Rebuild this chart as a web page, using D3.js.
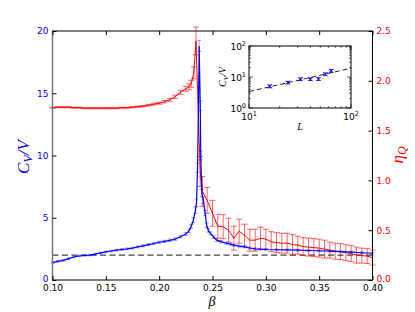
<!DOCTYPE html>
<html>
<head>
<meta charset="utf-8">
<script src="https://cdn.jsdelivr.net/npm/d3@7"></script>
<style>
body{margin:0;background:#fff;}
text{font-family:"DejaVu Sans",sans-serif;}
.math{font-family:"Liberation Serif","DejaVu Serif",serif;font-style:italic;}
</style>
</head>
<body>
<div id="chart"></div>
<script>
// specific heat per volume, C_V/V vs beta
var betaCv = [0.100,0.105,0.110,0.115,0.120,0.125,0.130,0.135,0.140,0.145,
              0.150,0.155,0.160,0.165,0.170,0.175,0.180,0.185,0.190,0.195,
              0.200,0.205,0.210,0.215,0.220,0.225,0.228,0.230,0.232,0.234,
              0.235,0.236,0.237,0.2375,0.2385,0.239,0.240,0.2415,0.243,0.2445,
              0.246,0.248,0.251,0.254,0.258,0.263,0.267,0.270,0.275,0.280,
              0.285,0.290,0.295,0.300,0.310,0.320,0.330,0.340,0.350,0.360,
              0.370,0.380,0.390,0.400];
var cvVal = [1.40,1.50,1.58,1.72,1.85,1.93,1.97,2.00,2.08,2.18,
             2.26,2.33,2.40,2.45,2.50,2.56,2.66,2.74,2.84,2.93,
             3.03,3.10,3.18,3.28,3.48,3.70,3.95,4.30,4.80,5.60,
             6.20,9.00,15.0,18.8,14.0,10.0,7.00,6.40,5.40,4.40,
             4.00,3.75,3.45,3.20,3.08,2.95,2.88,2.80,2.72,2.66,
             2.57,2.50,2.47,2.45,2.43,2.42,2.40,2.37,2.35,2.32,
             2.28,2.24,2.19,2.15];
var cvErr = [0.06,0.06,0.06,0.06,0.06,0.06,0.06,0.06,0.06,0.06,
             0.07,0.07,0.07,0.07,0.07,0.07,0.08,0.08,0.08,0.08,
             0.09,0.09,0.10,0.10,0.10,0.12,0.14,0.16,0.20,0.25,
             0.30,0.35,0.40,0.45,0.40,0.35,0.30,0.25,0.20,0.18,
             0.15,0.12,0.10,0.10,0.09,0.09,0.09,0.08,0.08,0.08,
             0.08,0.08,0.07,0.07,0.07,0.07,0.07,0.07,0.07,0.07,
             0.07,0.07,0.07,0.07];

// eta_Q vs beta
var betaEta = [0.100,0.105,0.110,0.115,0.120,0.125,0.130,0.135,0.140,0.145,
               0.150,0.155,0.160,0.165,0.170,0.175,0.180,0.185,0.190,0.195,
               0.200,0.205,0.210,0.215,0.220,0.225,0.228,0.230,0.2325,0.2345,
               0.2385,0.2405,0.245,0.250,0.255,0.260,0.265,0.270,0.275,0.280,
               0.285,0.290,0.295,0.300,0.305,0.310,0.315,0.320,0.325,0.330,
               0.335,0.340,0.345,0.350,0.355,0.360,0.365,0.370,0.375,0.380,
               0.385,0.390,0.395,0.400];
var etaVal = [1.73,1.735,1.735,1.735,1.73,1.73,1.725,1.725,1.725,1.725,
              1.725,1.725,1.725,1.73,1.73,1.735,1.74,1.745,1.755,1.765,
              1.775,1.79,1.81,1.84,1.885,1.92,1.94,1.97,2.08,2.40,
              1.09,0.89,0.80,0.67,0.54,0.535,0.50,0.42,0.49,0.45,
              0.40,0.40,0.42,0.41,0.385,0.375,0.37,0.37,0.355,0.35,
              0.335,0.33,0.325,0.32,0.31,0.30,0.29,0.285,0.275,0.265,
              0.25,0.245,0.24,0.225];
var etaErr = [0.005,0.005,0.005,0.005,0.005,0.005,0.005,0.005,0.005,0.005,
              0.005,0.005,0.005,0.005,0.005,0.006,0.006,0.007,0.008,0.009,
              0.01,0.012,0.014,0.016,0.02,0.025,0.03,0.035,0.06,0.14,
              0.15,0.15,0.13,0.13,0.12,0.12,0.12,0.12,0.12,0.11,
              0.11,0.11,0.11,0.10,0.10,0.10,0.10,0.10,0.10,0.09,
              0.09,0.09,0.09,0.09,0.09,0.08,0.08,0.08,0.08,0.08,
              0.08,0.075,0.075,0.075];

var xTicks = [0.10,0.15,0.20,0.25,0.30,0.35,0.40];
var cvTicks = [0,5,10,15,20];
var etaTicks = [0.0,0.5,1.0,1.5,2.0,2.5];
var refLevel = [2];

// inset: C_V/V peak height vs L
var insetL = [16,24,32,40,48,56,64];
var insetCv = [5.0,6.6,8.5,8.5,8.6,12.3,15.8];
var insetErr = [0.5,0.6,0.8,0.8,0.9,1.2,1.6];
var fitL = [10,100];
var fitCv = [3.4,19.2];
var insetPow = [0,1,2];

var W = 415, H = 312;
var blue = '#0000ff', red = '#ff0000';

var svg = d3.select('#chart').append('svg')
	.attr('width', W).attr('height', H);

var x = d3.scaleLinear().domain([0.10,0.40]).range([52.5,372.5]);
var yL = d3.scaleLinear().domain([0,20]).range([280,31]);
var yR = d3.scaleLinear().domain([0,2.5]).range([280,31]);

function errBars(g, xs, vs, es, sx, sy, color, op, cap){
	for(var i=0; i<xs.length; i++){
		var px = sx(xs[i]);
		var y0 = sy(vs[i]-es[i]), y1 = sy(vs[i]+es[i]);
		g.append('line').attr('x1',px).attr('x2',px).attr('y1',y0).attr('y2',y1)
			.attr('stroke',color).attr('stroke-opacity',op).attr('stroke-width',1);
		g.append('line').attr('x1',px-cap).attr('x2',px+cap).attr('y1',y0).attr('y2',y0)
			.attr('stroke',color).attr('stroke-opacity',op).attr('stroke-width',1);
		g.append('line').attr('x1',px-cap).attr('x2',px+cap).attr('y1',y1).attr('y2',y1)
			.attr('stroke',color).attr('stroke-opacity',op).attr('stroke-width',1);
	}
}

// reference dashed line
svg.append('line')
	.attr('x1', x(0.10)).attr('x2', x(0.40))
	.attr('y1', yL(refLevel[0])).attr('y2', yL(refLevel[0]))
	.attr('stroke','#444').attr('stroke-width',1.1).attr('stroke-dasharray','6,3.5');

// red series
var gRed = svg.append('g');
errBars(gRed, betaEta, etaVal, etaErr, x, yR, red, 0.6, 3);
gRed.append('path')
	.datum(d3.range(betaEta.length))
	.attr('fill','none').attr('stroke',red).attr('stroke-width',1)
	.attr('d', d3.line().x(function(i){return x(betaEta[i]);}).y(function(i){return yR(etaVal[i]);}));

// blue series
var gBlue = svg.append('g');
errBars(gBlue, betaCv, cvVal, cvErr, x, yL, blue, 0.4, 2);
gBlue.append('path')
	.datum(d3.range(betaCv.length))
	.attr('fill','none').attr('stroke',blue).attr('stroke-width',1.2)
	.attr('d', d3.line().x(function(i){return x(betaCv[i]);}).y(function(i){return yL(cvVal[i]);}));

// frame
svg.append('rect').attr('x',x(0.10)).attr('y',31).attr('width',x(0.40)-x(0.10)).attr('height',249)
	.attr('fill','none').attr('stroke','#000').attr('stroke-width',1);
svg.append('line').attr('x1',x(0.10)).attr('x2',x(0.10)).attr('y1',31).attr('y2',280)
	.attr('stroke','#777').attr('stroke-width',1.5);

// axes
var ax = svg.append('g').attr('transform','translate(0,280)')
	.call(d3.axisBottom(x).tickValues(xTicks).tickSize(-4).tickPadding(5)
		.tickFormat(d3.format('.2f')));
ax.select('.domain').remove();
ax.selectAll('text').attr('font-size',9).attr('fill','#000');

var axTop = svg.append('g').attr('transform','translate(0,31)')
	.call(d3.axisTop(x).tickValues(xTicks).tickSize(-4).tickFormat(''));
axTop.select('.domain').remove();

var ayL = svg.append('g').attr('transform','translate('+x(0.10)+',0)')
	.call(d3.axisLeft(yL).tickValues(cvTicks).tickSize(-4).tickPadding(4));
ayL.select('.domain').remove();
ayL.selectAll('text').attr('font-size',9).attr('fill',blue);
ayL.selectAll('.tick').filter(function(d){return d===0;}).select('text').attr('dy','0.2em');

var ayR = svg.append('g').attr('transform','translate('+x(0.40)+',0)')
	.call(d3.axisRight(yR).tickValues(etaTicks).tickSize(-4).tickPadding(4)
		.tickFormat(d3.format('.1f')));
ayR.select('.domain').remove();
ayR.selectAll('text').attr('font-size',9).attr('fill',red);
ayR.selectAll('.tick').filter(function(d){return d===0;}).select('text').attr('dy','0.2em');

// axis labels
svg.append('text').attr('class','math')
	.attr('x',212).attr('y',306).attr('text-anchor','middle')
	.attr('font-size',14).text('β');

var lblL = svg.append('text').attr('class','math')
	.attr('transform','translate(29,157) rotate(-90)')
	.attr('text-anchor','middle').attr('font-size',17).attr('fill',blue);
lblL.append('tspan').text('C');
lblL.append('tspan').attr('font-size',12).attr('dy',3).text('V');
lblL.append('tspan').attr('dy',-3).text('/V');

var lblR = svg.append('text').attr('class','math')
	.attr('transform','translate(403,155) rotate(-90)')
	.attr('text-anchor','middle').attr('font-size',17).attr('fill',red);
lblR.append('tspan').text('η');
lblR.append('tspan').attr('font-size',12).attr('dy',3).text('Q');

// inset
var ix = d3.scaleLog().domain([10,100]).range([249,351]);
var iy = d3.scaleLog().domain([1,100]).range([108,46]);
var gIn = svg.append('g');
gIn.append('rect').attr('x',249).attr('y',46).attr('width',102).attr('height',62)
	.attr('fill','#fff').attr('stroke','none');

gIn.append('line')
	.attr('x1',ix(fitL[0])).attr('x2',ix(fitL[1]))
	.attr('y1',iy(fitCv[0])).attr('y2',iy(fitCv[1]))
	.attr('stroke','#222').attr('stroke-width',1).attr('stroke-dasharray','5,3');

errBars(gIn, insetL, insetCv, insetErr, ix, iy, blue, 0.8, 2);
insetL.forEach(function(L, i){
	var px = ix(L), py = iy(insetCv[i]);
	gIn.append('path').attr('d','M'+(px-2)+','+(py-2)+'L'+(px+2)+','+(py+2)+'M'+(px-2)+','+(py+2)+'L'+(px+2)+','+(py-2))
		.attr('stroke',blue).attr('stroke-width',1);
});

// inset ticks (major + minor) on all sides
var xMinor = ix.ticks();
xMinor.forEach(function(v){
	var major = (v===10 || v===100);
	var len = major ? 4 : 2;
	gIn.append('line').attr('x1',ix(v)).attr('x2',ix(v)).attr('y1',108).attr('y2',108-len).attr('stroke','#000').attr('stroke-width',0.6);
	gIn.append('line').attr('x1',ix(v)).attr('x2',ix(v)).attr('y1',46).attr('y2',46+len).attr('stroke','#000').attr('stroke-width',0.6);
});
var yMinor = iy.ticks();
yMinor.forEach(function(v){
	var major = (v===1 || v===10 || v===100);
	var len = major ? 4 : 2;
	gIn.append('line').attr('x1',249).attr('x2',249+len).attr('y1',iy(v)).attr('y2',iy(v)).attr('stroke','#000').attr('stroke-width',0.6);
	gIn.append('line').attr('x1',351).attr('x2',351-len).attr('y1',iy(v)).attr('y2',iy(v)).attr('stroke','#000').attr('stroke-width',0.6);
});
gIn.append('rect').attr('x',249).attr('y',46).attr('width',102).attr('height',62)
	.attr('fill','none').attr('stroke','#000').attr('stroke-width',1);

// inset tick labels
insetPow.forEach(function(p){
	var t = gIn.append('text').attr('x',246).attr('y',iy(Math.pow(10,p))+4)
		.attr('text-anchor','end').attr('font-size',9);
	t.append('tspan').text('10');
	t.append('tspan').attr('font-size',6.5).attr('dy',-4).text(p);
});
[1,2].forEach(function(p){
	var t = gIn.append('text').attr('x',ix(Math.pow(10,p))).attr('y',120)
		.attr('text-anchor','middle').attr('font-size',9);
	t.append('tspan').text('10');
	t.append('tspan').attr('font-size',6.5).attr('dy',-4).text(p);
});
gIn.append('text').attr('class','math').attr('x',300).attr('y',130)
	.attr('text-anchor','middle').attr('font-size',10).text('L');
var lblIn = gIn.append('text').attr('class','math')
	.attr('transform','translate(226,77) rotate(-90)')
	.attr('text-anchor','middle').attr('font-size',10);
lblIn.append('tspan').text('C');
lblIn.append('tspan').attr('font-size',7).attr('dy',2).text('V');
lblIn.append('tspan').attr('dy',-2).text('/V');
</script>
</body>
</html>
